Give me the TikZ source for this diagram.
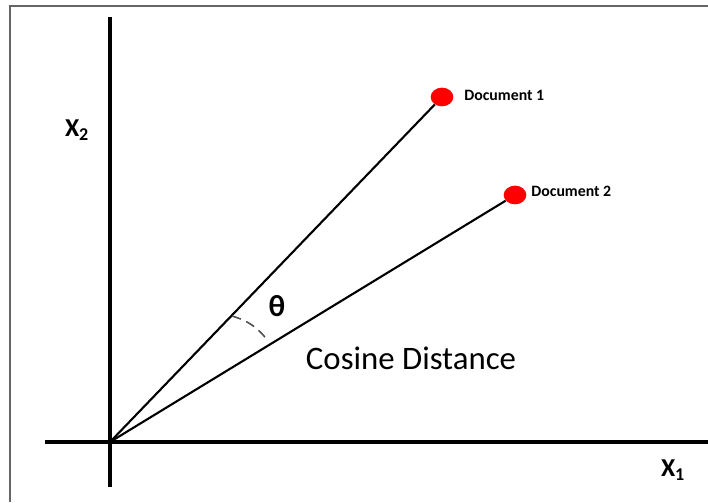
\documentclass[tikz,border=0pt]{standalone}
\usepackage{fontspec}
\setmainfont{Carlito}
\usetikzlibrary{shapes.geometric, positioning}

\begin{document}
\begin{tikzpicture}[x=0.03cm, y=0.03cm,
    axis/.style={line width=3.2pt},
    vec/.style={line width=1.8pt},
    doc/.style={draw=none, ellipse, fill=red, minimum width=0.68cm, minimum height=0.56cm, inner sep=0pt},
    doclabel/.style={font=\fontsize{13.5}{15}\selectfont\bfseries, inner sep=1pt},
    axlabel/.style={font=\fontsize{22}{24}\selectfont\bfseries}]

\useasboundingbox (0,0) rectangle (708,502);
\draw[gray!80!black, line width=1.2pt] (10,0) -- (10,496) -- (708,496);

\coordinate (o) at (110,60);
\coordinate (ytop) at (110,485);
\coordinate (ybot) at (110,15);
\coordinate (xleft) at (45,60);
\coordinate (xright) at (708,60);

\node[doc] (doc1) at (442,405) {};
\node[doc] (doc2) at (515,307) {};
\node[doclabel, anchor=west] (lab1) at (463,407) {Document 1};
\node[doclabel, anchor=west] (lab2) at (530,311) {Document 2};

\draw[axis] (ybot) -- (ytop);
\draw[axis] (xleft) -- (xright);
\draw[vec] (o) -- (doc1);
\draw[vec] (o) -- (doc2);

% angle between the two vectors
\coordinate (arcA) at (232,186);
\coordinate (arcB) at (268,161);
\draw[line width=1.3pt, dash pattern=on 8pt off 5pt, gray!60!black]
    (arcA) to[bend left=18] (arcB);
\node[font=\fontsize{26}{28}\selectfont\bfseries] (theta) at (277,196) {θ};
\node[font=\fontsize{28}{30}\selectfont] (cosdist) at (411,144) {Cosine Distance};

\node[axlabel] (x2) at (77,372) {X\textsubscript{2}};
\node[axlabel] (x1) at (673,32) {X\textsubscript{1}};
\end{tikzpicture}
\end{document}
